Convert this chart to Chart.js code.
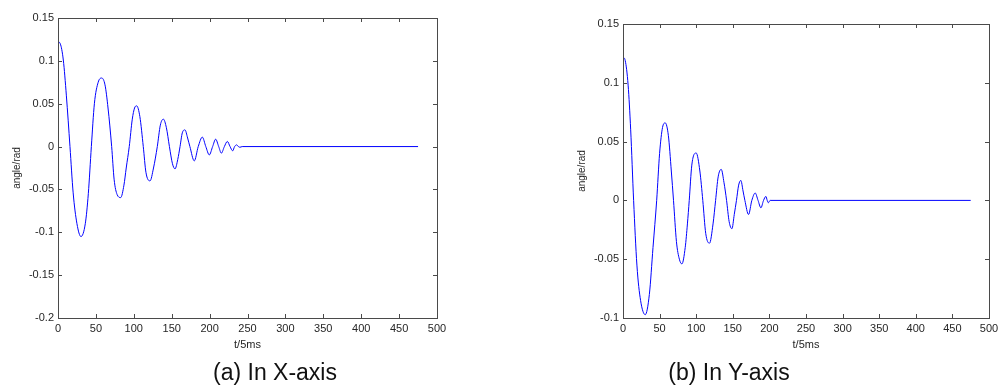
<!DOCTYPE html>
<html lang="en">
<head>
    <meta charset="UTF-8">
    <title>Angle response</title>
    <style>
        body {
            margin: 0;
            background: #fff;
            font-family: Arial, "Liberation Sans", sans-serif;
        }
        #page {
            position: relative;
            width: 998px;
            height: 387px;
            overflow: hidden;
        }
        canvas {
            position: absolute;
            top: 0;
        }
        .caption {
            position: absolute;
            font-size: 23px;
            color: #111;
            transform: translate(-50%, -50%);
            white-space: nowrap;
        }
    </style>
</head>
<body>
<div id="page">
    <canvas id="chartX" width="455" height="360" style="left:0px"></canvas>
    <canvas id="chartY" width="438" height="360" style="left:560px"></canvas>
    <div class="caption" style="left:275px; top:372px;">(a) In X-axis</div>
    <div class="caption" style="left:729px; top:372px;">(b) In Y-axis</div>
</div>
<script src="https://cdn.jsdelivr.net/npm/chart.js"></script>
<script>
    // (a) X-axis angle
    const xAxisT = [0, 3, 7, 11, 15.8, 20, 25, 30.3, 36, 40, 44, 48, 53, 57.6, 62, 66, 70.8, 74, 78, 82.7,
        87, 90, 94, 98, 101, 103.8, 108, 112.5, 116, 121.4, 126, 131, 135, 139, 143, 147, 151, 154.4, 158, 161,
        164, 167.5, 171, 174, 179.8, 185, 190.4, 195, 199.6, 204, 208, 212, 215.5, 219.5, 223.4, 227, 230.4,
        233, 235.7, 238, 240, 243, 475];
    const xAxisAngle = [0.1225, 0.120, 0.101, 0.060, 0, -0.054, -0.090, -0.105, -0.090, -0.055, 0, 0.050, 0.075, 0.080, 0.072, 0.045, 0, -0.038, -0.056, -0.0595,
        -0.045, -0.025, 0, 0.032, 0.045, 0.0475, 0.035, 0, -0.030, -0.040, -0.025, 0, 0.025, 0.032, 0.022, 0, -0.020, -0.026, -0.015, 0,
        0.016, 0.0195, 0.010, 0, -0.0167, 0, 0.011, 0, -0.0097, 0, 0.0086, 0, -0.0077, 0, 0.006, 0, -0.005,
        0, 0.002, 0, -0.0008, 0, 0];

    // (b) Y-axis angle
    const yAxisT = [0, 3, 7, 10.5, 14.5, 19, 24, 30.4, 36, 41, 46, 50, 54, 57.7, 62, 66, 69, 73, 77, 80.5,
        85, 88, 90.5, 94, 100, 105, 109, 113, 118.2, 123, 126.5, 130, 134.2, 138, 141.5, 145, 148.8, 152, 155,
        158, 161, 164, 166.5, 171.5, 176, 180.6, 184.5, 188.4, 192, 195.2, 197, 198.5, 201, 475];
    const yAxisAngle = [0.122, 0.119, 0.098, 0.060, 0, -0.055, -0.085, -0.0972, -0.080, -0.040, 0, 0.040, 0.062, 0.0659, 0.055, 0.025, 0, -0.035, -0.050, -0.054,
        -0.040, -0.020, 0, 0.030, 0.0403, 0.025, 0, -0.028, -0.0364, -0.020, 0, 0.020, 0.0264, 0.015, 0, -0.018, -0.0241, -0.012, 0,
        0.013, 0.017, 0.008, 0, -0.012, 0, 0.0063, 0, -0.0063, 0, 0.0034, 0, -0.002, 0, 0];

    const xTickStep = 50;
    const yTickStep = 0.05;

    const textColor = '#262626';
    const boxColor = '#4a4a4a';

    // MATLAB style box with inward ticks on all four sides
    const boxPlugin = {
        id: 'box',
        afterDraw(chart) {
            const {ctx, chartArea: a, scales} = chart;
            ctx.save();
            ctx.strokeStyle = boxColor;
            ctx.lineWidth = 1;
            ctx.strokeRect(Math.round(a.left) + 0.5, Math.round(a.top) + 0.5,
                Math.round(a.right - a.left), Math.round(a.bottom - a.top));
            const len = 4;
            ctx.beginPath();
            scales.x.ticks.forEach(t => {
                const px = Math.round(scales.x.getPixelForValue(t.value)) + 0.5;
                ctx.moveTo(px, a.bottom); ctx.lineTo(px, a.bottom - len);
                ctx.moveTo(px, a.top); ctx.lineTo(px, a.top + len);
            });
            scales.y.ticks.forEach(t => {
                const py = Math.round(scales.y.getPixelForValue(t.value)) + 0.5;
                ctx.moveTo(a.left, py); ctx.lineTo(a.left + len, py);
                ctx.moveTo(a.right, py); ctx.lineTo(a.right - len, py);
            });
            ctx.stroke();
            ctx.restore();
        }
    };

    function makeChart(id, tVals, angles, yMin, yMax, opts) {
        const points = tVals.map((t, i) => ({x: t, y: angles[i]}));
        return new Chart(document.getElementById(id), {
            type: 'line',
            data: {
                datasets: [{
                    data: points,
                    borderColor: '#0000ff',
                    borderWidth: 1,
                    pointRadius: 0,
                    cubicInterpolationMode: 'monotone',
                    fill: false
                }]
            },
            options: {
                responsive: false,
                animation: false,
                layout: {padding: {left: 0, top: opts.top, right: opts.right, bottom: 0}},
                plugins: {legend: {display: false}, tooltip: {enabled: false}},
                scales: {
                    x: {
                        type: 'linear',
                        min: 0,
                        max: 500,
                        // fixed box: no extra room for the end labels
                        afterFit: s => { s.height = 42; s.paddingLeft = 0; s.paddingRight = 0; },
                        grid: {display: false, drawTicks: false},
                        border: {display: false},
                        ticks: {
                            stepSize: xTickStep,
                            autoSkip: false,
                            maxRotation: 0,
                            padding: 4,
                            color: textColor,
                            font: {family: 'Arial', size: 11}
                        },
                        title: {
                            display: true,
                            text: 't/5ms',
                            color: textColor,
                            font: {family: 'Arial', size: 11},
                            padding: {top: 0, bottom: 8}
                        }
                    },
                    y: {
                        min: yMin,
                        max: yMax,
                        afterFit: s => { s.width = opts.yWidth; s.paddingTop = 0; s.paddingBottom = 0; },
                        grid: {display: false, drawTicks: false},
                        border: {display: false},
                        ticks: {
                            stepSize: yTickStep,
                            autoSkip: false,
                            padding: 4,
                            color: textColor,
                            font: {family: 'Arial', size: 11},
                            callback: v => String(Number(v.toFixed(2)))
                        },
                        title: {
                            display: true,
                            text: 'angle/rad',
                            color: textColor,
                            font: {family: 'Arial', size: 10},
                            padding: {top: opts.titlePad, bottom: 0}
                        }
                    }
                }
            },
            plugins: [boxPlugin]
        });
    }

    makeChart('chartX', xAxisT, xAxisAngle, -0.2, 0.15, {top: 18, right: 18, yWidth: 58, titlePad: 11});
    makeChart('chartY', yAxisT, yAxisAngle, -0.1, 0.15, {top: 24, right: 9, yWidth: 63, titlePad: 16});
</script>
</body>
</html>
